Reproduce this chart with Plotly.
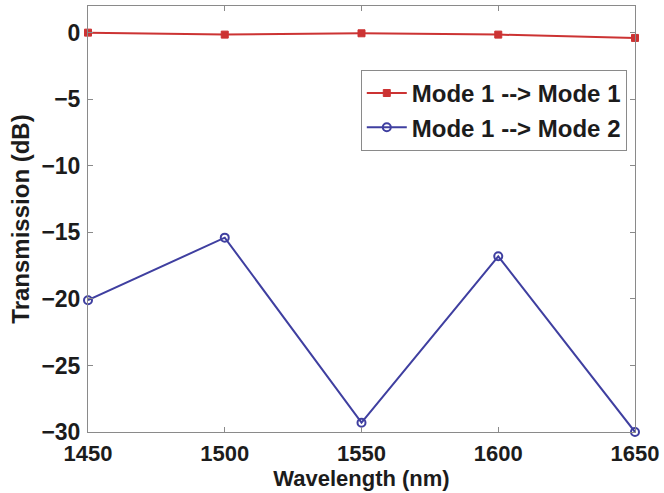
import plotly.graph_objects as go

wavelength = [1450, 1500, 1550, 1600, 1650]
mode11 = [0.0, -0.15, -0.05, -0.15, -0.4]
mode12 = [-20.1, -15.4, -29.3, -16.8, -30.0]
series_names = ["Mode 1 --> Mode 1", "Mode 1 --> Mode 2"]
x_ticks = [1450, 1500, 1550, 1600, 1650]
y_ticks = [0, -5, -10, -15, -20, -25, -30]

font_family = "Liberation Sans, Arial, sans-serif"
txt = "#1c1c1c"

fig = go.Figure()
fig.add_trace(go.Scatter(
    x=wavelength, y=mode11, name=series_names[0], mode="lines+markers",
    line=dict(color="#cc3333", width=2),
    marker=dict(symbol="square", size=7, color="#cc3333", line=dict(color="#cc3333", width=1)),
    cliponaxis=False,
))
fig.add_trace(go.Scatter(
    x=wavelength, y=mode12, name=series_names[1], mode="lines+markers",
    line=dict(color="#3f3fa0", width=2),
    marker=dict(symbol="circle-open", size=8, color="#3f3fa0", line=dict(color="#3f3fa0", width=2)),
    cliponaxis=False,
))

axis_common = dict(
    showline=True, linecolor="#8a8a8a", linewidth=1, mirror="ticks",
    ticks="inside", ticklen=5, tickcolor="#8a8a8a", showgrid=False, zeroline=False,
)

fig.update_layout(
    width=664, height=493,
    margin=dict(l=88, r=29, t=6, b=61),
    paper_bgcolor="white", plot_bgcolor="white",
    font=dict(family=font_family, color=txt),
    xaxis=dict(range=[1450, 1650], tickvals=x_ticks, ticktext=[str(v) for v in x_ticks],
               tickfont=dict(family=font_family, size=22, color=txt, weight="bold"),
               title=dict(text="Wavelength (nm)", font=dict(size=22, family=font_family, color=txt, weight="bold"), standoff=4),
               ticklabelstandoff=2,
               **axis_common),
    yaxis=dict(range=[-30, 2], tickvals=y_ticks, ticktext=[("\u2212" + str(-v)) if v < 0 else str(v) for v in y_ticks],
               tickfont=dict(family=font_family, size=23, color=txt, weight="bold"),
               title=dict(text="Transmission (dB)", font=dict(size=24, family=font_family, color=txt, weight="bold"), standoff=4),
               ticklabelstandoff=2,
               **axis_common),
    legend=dict(x=0.985, y=0.85, xanchor="right", yanchor="top",
                bgcolor="white", bordercolor="#8a8a8a", borderwidth=1,
                font=dict(family=font_family, size=24, color=txt, weight="bold"),
                tracegroupgap=0, itemwidth=40),
    showlegend=True,
)

fig.write_html("out.html")
